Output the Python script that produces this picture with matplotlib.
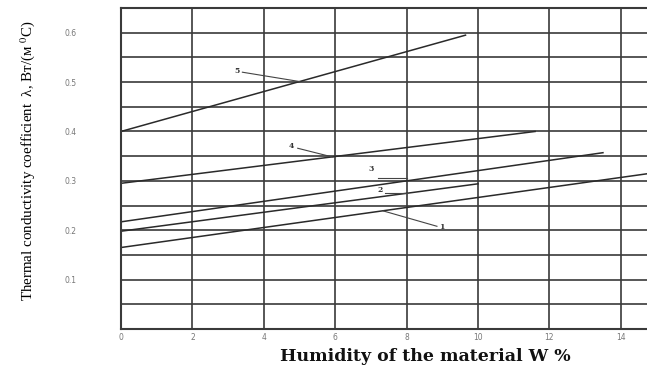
import matplotlib
matplotlib.use("Agg")
import matplotlib.pyplot as plt

# Data: straight lines (start/end points) for curves 1..5
curve_names = ["1", "2", "3", "4", "5"]
x_start = [0, 0, 0, 0, 0]
x_end = [15.0, 10.0, 13.5, 11.6, 9.65]
y_start = [0.165, 0.198, 0.217, 0.295, 0.400]
y_end = [0.317, 0.294, 0.357, 0.400, 0.595]

# Label positions and leader line ends (data coordinates)
label_x = [8.98, 7.25, 7.02, 4.78, 3.25]
label_y = [0.206, 0.282, 0.323, 0.370, 0.523]
leader_from_x = [8.85, 7.40, 7.20, 4.95, 3.40]
leader_from_y = [0.208, 0.276, 0.306, 0.366, 0.520]
leader_to_x = [7.35, 8.0, 8.0, 5.94, 5.01]
leader_to_y = [0.239, 0.276, 0.306, 0.348, 0.501]

x_ticks = [0, 2, 4, 6, 8, 10, 12, 14]
y_ticks = [0.1, 0.2, 0.3, 0.4, 0.5, 0.6]
y_grid = [0.05 * i for i in range(1, 13)]

fig = plt.figure(figsize=(6.47, 3.72), dpi=100)
ax = fig.add_axes([121 / 647, 43 / 372, 1 - 121 / 647, 321 / 372])
ax.set_xlim(0, 526 / 35.7)
ax.set_ylim(0, 0.65)

gridc = "#3a3a3a"
ax.set_xticks(x_ticks)
ax.set_xticklabels([str(t) for t in x_ticks])
ax.set_yticks(y_ticks)
ax.set_yticklabels([f"{t:.1f}" for t in y_ticks])
ax.set_yticks(y_grid, minor=True)
ax.grid(True, which="both", color=gridc, linewidth=1.2)
ax.tick_params(which="both", length=0)
ax.tick_params(axis="x", labelsize=5.5, labelcolor="#777777", pad=3)
ax.tick_params(axis="y", labelsize=5.5, labelcolor="#777777", pad=32)
for s in ["left", "bottom", "top"]:
    ax.spines[s].set_color(gridc)
    ax.spines[s].set_linewidth(1.5)
ax.spines["right"].set_visible(False)

for i in range(len(curve_names)):
    ax.plot([x_start[i], x_end[i]], [y_start[i], y_end[i]], color="#2a2a2a",
            linewidth=1.1, clip_on=True)
    ax.text(label_x[i], label_y[i], curve_names[i], fontsize=5.5,
            family="DejaVu Serif", fontweight="bold", color="#333333",
            ha="center", va="center")
    ax.plot([leader_from_x[i], leader_to_x[i]], [leader_from_y[i], leader_to_y[i]],
            color="#444444", linewidth=0.8)

ax.set_xlabel("Humidity of the material W %", family="DejaVu Serif",
              fontweight="bold", fontsize=12.5, color="#111111")
ax.xaxis.set_label_coords(0.578, -0.058)

plt.rcParams["mathtext.fontset"] = "stix"
fig.text(28 / 647, 0.57, r"Thermal conductivity coefficient  λ, Вт/(м $^{0}$C)",
         rotation=90, family="Liberation Serif", fontsize=10.8,
         ha="center", va="center", color="#000000")

fig.savefig("out.png", dpi=100)
